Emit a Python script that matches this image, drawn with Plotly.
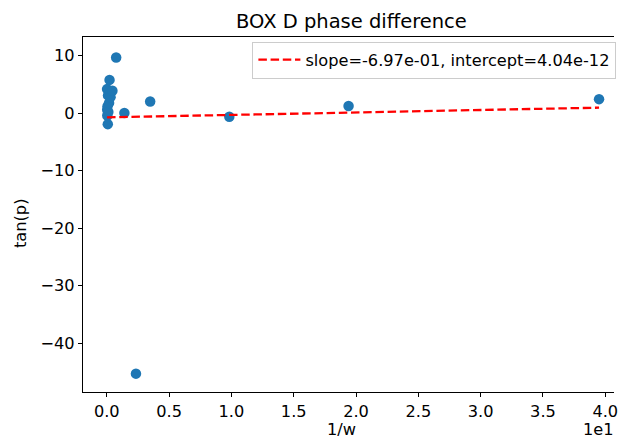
import plotly.graph_objects as go

# data (x in raw units of 1/w, axis shows them scaled by 1e1)
inv_w = [0.02, 0.03, 0.04, 0.06, 0.08, 0.10, 0.12, 0.18, 0.22, 0.30, 0.45, 0.75, 1.41, 2.34, 3.48, 9.83, 19.4, 39.5]
tan_p = [4.2, 0.6, -0.4, 1.2, -1.9, 3.1, 0.2, 1.8, 5.8, 2.8, 3.9, 9.7, 0.05, -45.3, 2.05, -0.6, 1.25, 2.45]
fit_y = [-0.72, 0.97]
fit_label = "slope=-6.97e-01, intercept=4.04e-12"
x_tickvals = [0, 5, 10, 15, 20, 25, 30, 35, 40]
x_ticktext = ["0.0", "0.5", "1.0", "1.5", "2.0", "2.5", "3.0", "3.5", "4.0"]
y_tickvals = [10, 0, -10, -20, -30, -40]
y_ticktext = ["10", "0", "\u221210", "\u221220", "\u221230", "\u221240"]

FONT = "DejaVu Sans"
fs = 16.2

fig = go.Figure()
fig.add_trace(go.Scatter(
    x=inv_w, y=tan_p, mode="markers",
    marker=dict(color="#1f77b4", size=10.5, line=dict(width=0)),
    showlegend=False,
))
fig.add_trace(go.Scatter(
    x=[min(inv_w), max(inv_w)], y=fit_y, mode="lines",
    line=dict(color="red", width=2.3, dash="8.5px,3.7px"),
    name=fit_label,
))

axis_common = dict(
    showgrid=False, zeroline=False, showline=True, linecolor="black", linewidth=1.2,
    ticks="outside", ticklen=4, tickwidth=1.2, tickcolor="black",
    tickfont=dict(family=FONT, size=fs, color="black"),
    ticklabeloverflow="allow",
)
fig.update_xaxes(range=[-1.91, 40.7], tickvals=x_tickvals, ticktext=x_ticktext,
                 mirror=True, **axis_common)
fig.update_yaxes(range=[-48.49, 13.26], tickvals=y_tickvals, ticktext=y_ticktext,
                 mirror=False, **axis_common)

fig.update_layout(
    width=618, height=439,
    margin=dict(l=83.3, r=0, t=37, b=46.7),
    paper_bgcolor="white", plot_bgcolor="white",
    font=dict(family=FONT, size=fs, color="black"),
    legend=dict(
        x=0.319, y=0.987, xanchor="left", yanchor="top", itemwidth=42,
        bgcolor="rgba(255,255,255,0.8)", bordercolor="#cccccc", borderwidth=1,
        font=dict(family=FONT, size=fs, color="black"),
    ),
    annotations=[
        dict(text="BOX D phase difference", x=354, y=439 - 21, xref="paper", yref="paper",
             showarrow=False, font=dict(family=FONT, size=19.5, color="black"),
             xanchor="center", yanchor="middle"),
        dict(text="1/w", x=343.5, y=439 - 430, showarrow=False,
             font=dict(family=FONT, size=fs, color="black"), xanchor="center", yanchor="middle"),
        dict(text="tan(p)", x=21, y=439 - 224, showarrow=False, textangle=-90,
             font=dict(family=FONT, size=fs, color="black"), xanchor="center", yanchor="middle"),
        dict(text="1e1", x=602, y=439 - 430, showarrow=False,
             font=dict(family=FONT, size=fs, color="black"), xanchor="center", yanchor="middle"),
    ],
)

# convert pixel annotation positions to paper coordinates
pw = 618 - 83.3
ph = 439 - 37 - 46.7
for a in fig.layout.annotations:
    a.x = (a.x - 83.3) / pw
    a.y = (a.y - 46.7) / ph
    a.xref = "paper"
    a.yref = "paper"

fig.write_html("out.html")
